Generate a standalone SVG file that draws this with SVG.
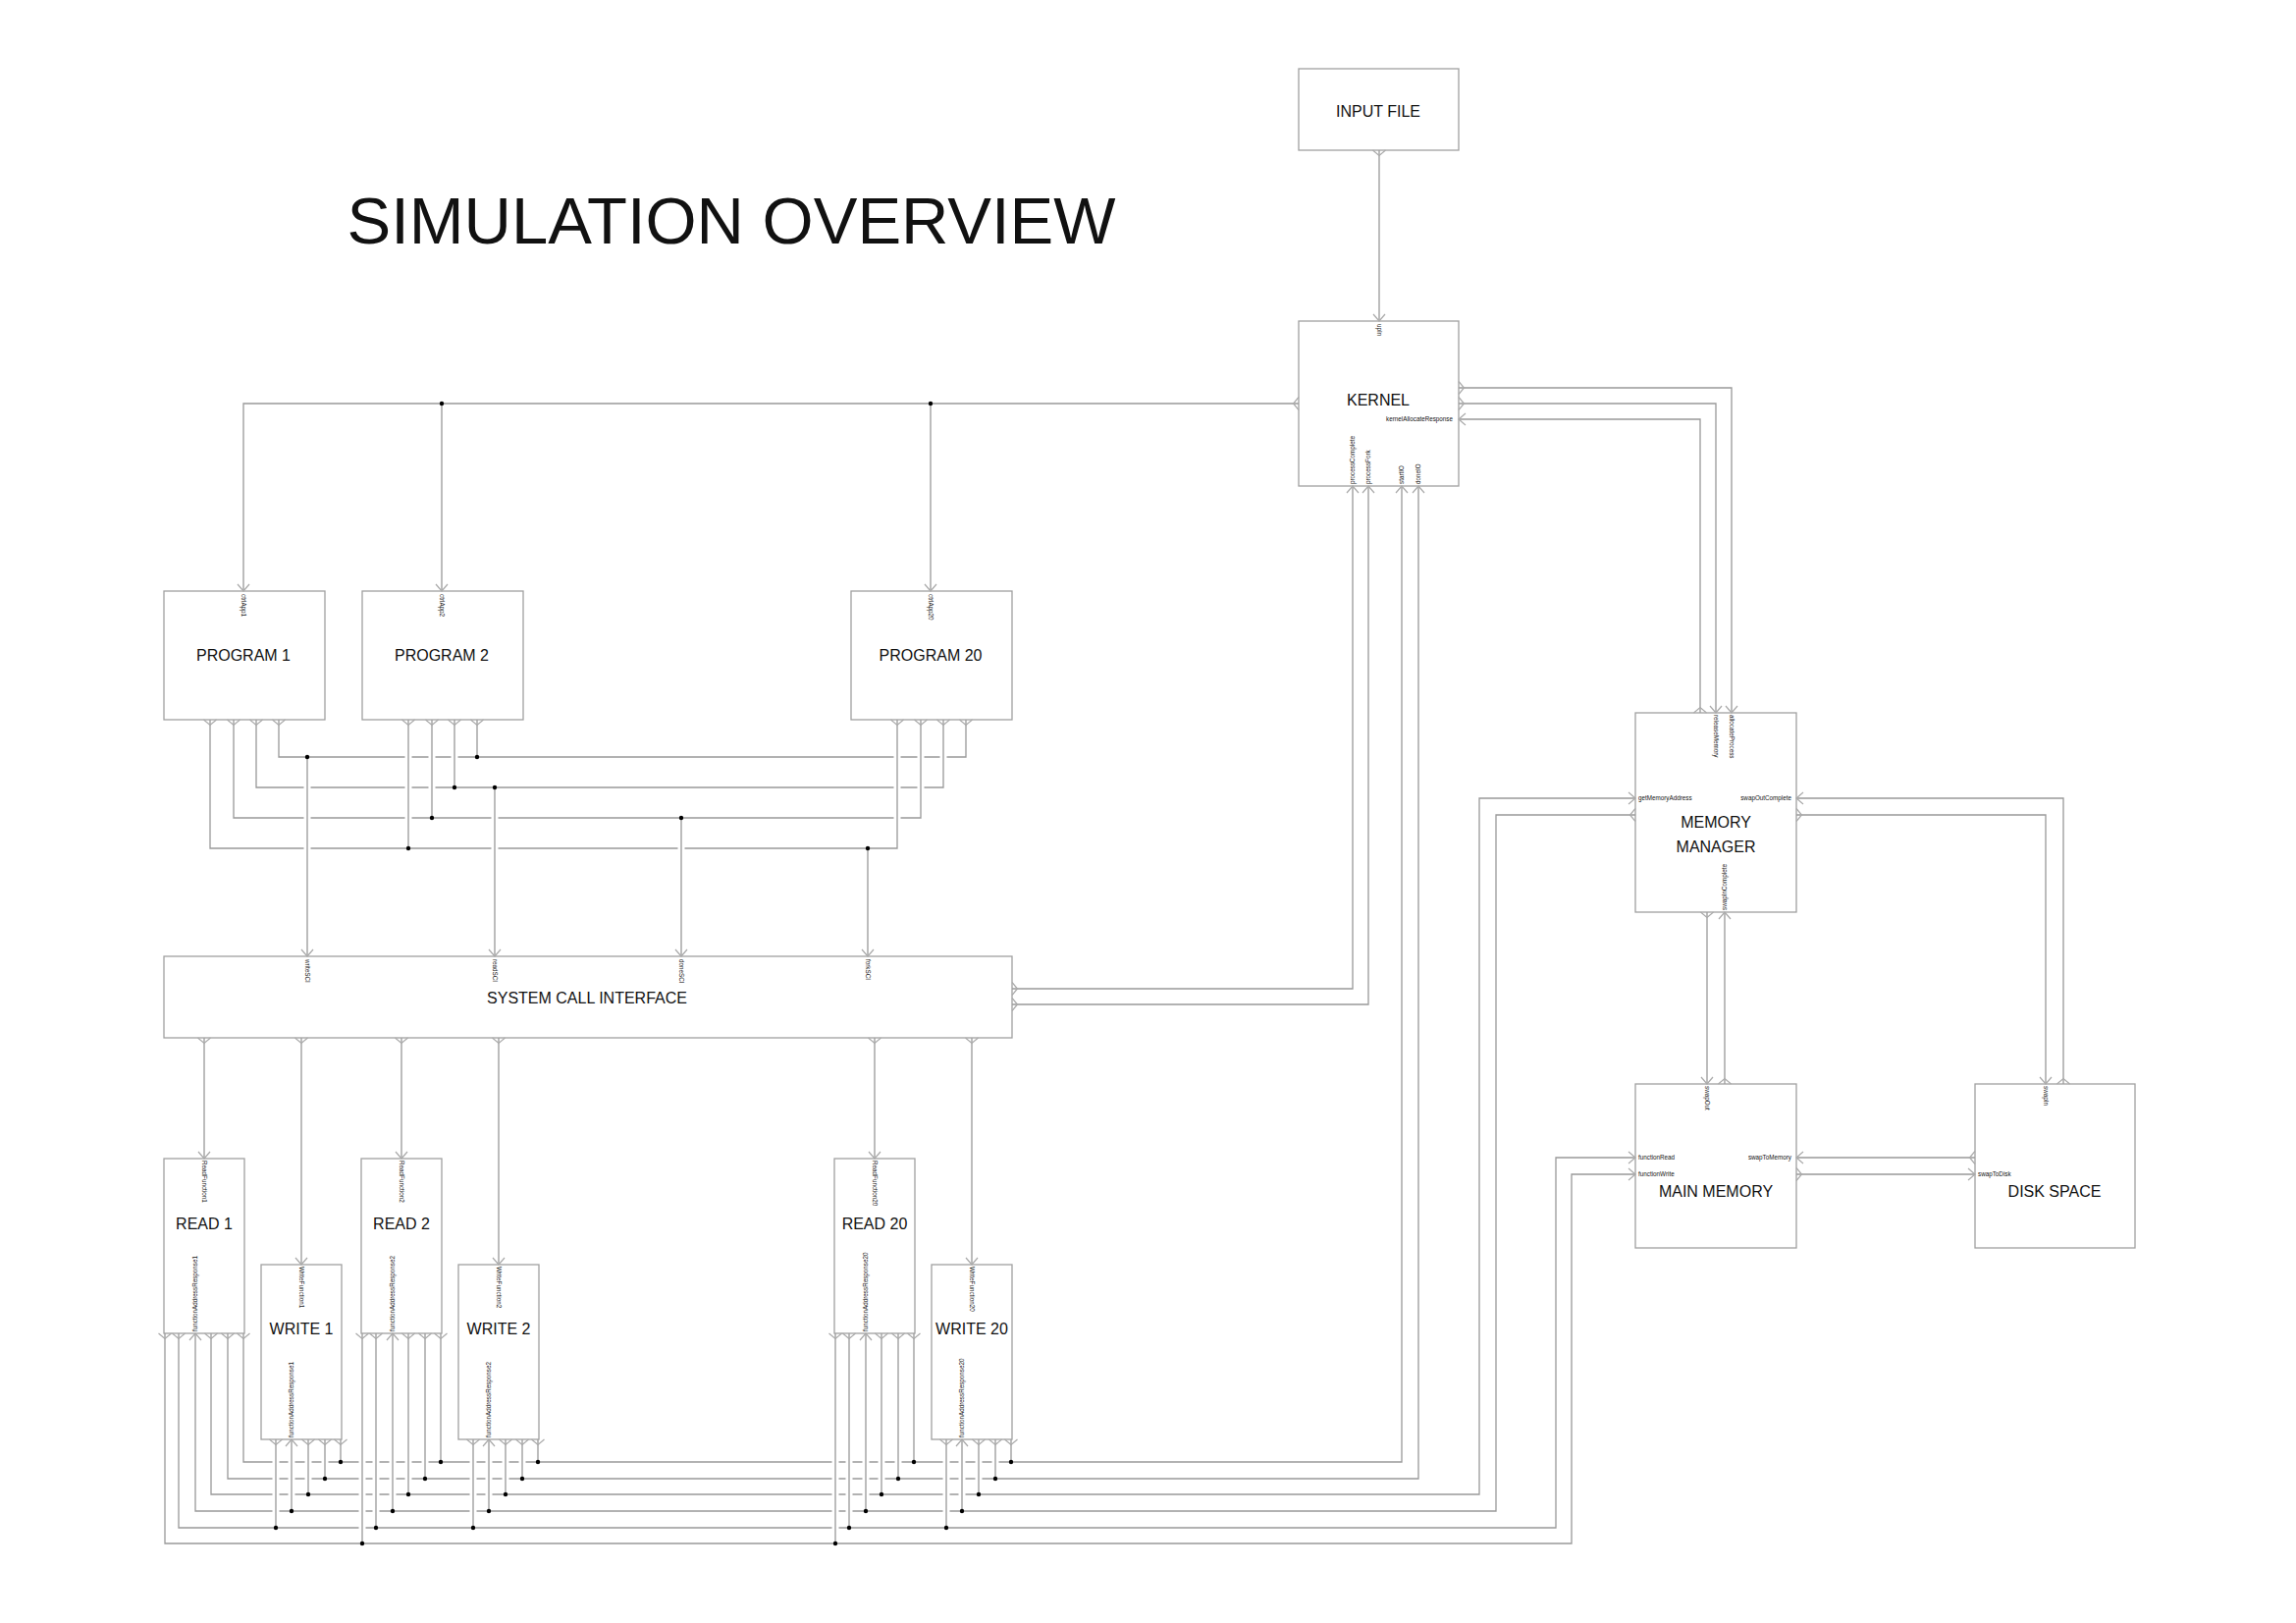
<svg xmlns="http://www.w3.org/2000/svg" xmlns:xlink="http://www.w3.org/1999/xlink" width="2339" height="1653" viewBox="0 0 2339 1653">
<style>
text{font-family:"Liberation Sans",Arial,Helvetica,sans-serif;fill:#111}
.box{fill:#fff;stroke:#a0a0a0;stroke-width:1.3}
.lbl{font-size:16px;text-anchor:middle}
.pl{font-size:6.3px}
.pr{font-size:6.3px;text-anchor:end}
.c{fill:none;stroke:#999;stroke-width:1.3}
.halo{fill:none;stroke:#fff;stroke-width:7}
.mk{fill:none;stroke:#aaa;stroke-width:1.2}
.dot{fill:#000}
.title{font-size:67px;text-anchor:middle}
</style>
<defs>
<path id="ain" class="mk" d="M-6,-7 L0,0 L6,-7"/>
<path id="aout" class="mk" d="M-6.5,0 L0,5.5 L6.5,0"/>
</defs>
<rect width="2339" height="1653" fill="#fff"/>
<text class="title" x="745" y="248">SIMULATION OVERVIEW</text>

<g id="connectors">
<path id="net-input" class="c" d="M1405,153 V327"/>
<path id="net-ctrl" class="c" d="M1323,411 H248 V602 M450,411 V602 M948,411 V602"/>
<path id="net-alloc" class="c" d="M1486,395 H1764 V726"/>
<path id="net-release" class="c" d="M1486,411 H1748 V726"/>
<path id="net-allocresp" class="c" d="M1732,726 V427 H1486"/>
<path id="net-swapoutcomplete" class="c" d="M2102,1104 V813 H1830"/>
<path id="net-swapin" class="c" d="M1830,830 H2084 V1104"/>
<path id="net-swapout" class="c" d="M1739,929 V1104"/>
<path id="net-swapincomplete" class="c" d="M1757,1104 V929"/>
<path id="net-swaptomemory" class="c" d="M2012,1179 H1830"/>
<path id="net-swaptodisk" class="c" d="M1830,1196 H2012"/>
<path id="net-proccomplete" class="c" d="M1031,1007 H1378 V495"/>
<path id="net-procfork" class="c" d="M1031,1023 H1394 V495"/>
<path id="net-a" class="c" d="M284,733 V771 H984 V733 M486,733 V771 M313,771 V974"/>
<path id="net-b" class="c" d="M261,733 V802 H961 V733 M463,733 V802 M504,802 V974"/>
<path id="net-c" class="c" d="M238,733 V833 H938 V733 M440,733 V833 M694,833 V974"/>
<path id="net-d" class="c" d="M214,733 V864 H914 V733 M416,733 V864 M884,864 V974"/>
<path id="net-sci" class="c" d="M208,1057 V1180 M307,1057 V1288 M409,1057 V1180 M508,1057 V1288 M891,1057 V1180 M990,1057 V1288"/>
<path id="net-l1" class="c" d="M248,1358 V1489 H1428 V495 M347,1466 V1489 M449,1358 V1489 M548,1466 V1489 M931,1358 V1489 M1030,1466 V1489"/>
<path id="net-l2" class="c" d="M232,1358 V1506 H1445 V495 M331,1466 V1506 M433,1358 V1506 M532,1466 V1506 M915,1358 V1506 M1014,1466 V1506"/>
<path id="net-l3" class="c" d="M215,1358 V1522 H1507 V813 H1666 M314,1466 V1522 M416,1358 V1522 M515,1466 V1522 M898,1358 V1522 M997,1466 V1522"/>
<path id="net-l4" class="c" d="M1666,830 H1524 V1539 H199 V1358 M297,1466 V1539 M400,1358 V1539 M498,1466 V1539 M882,1358 V1539 M980,1466 V1539"/>
<path id="net-l5" class="c" d="M182,1358 V1556 H1585 V1179 H1666 M281,1466 V1556 M383,1358 V1556 M482,1466 V1556 M865,1358 V1556 M964,1466 V1556"/>
<path id="net-l6" class="c" d="M168,1358 V1572 H1601 V1196 H1666 M369,1358 V1572 M851,1358 V1572"/>
<path class="halo" d="M313,776V969 M504,807V969 M694,838V969 M416,738V859 M440,738V828 M463,738V797 M914,738V859 M938,738V828 M961,738V797 M281,1471V1551 M297,1471V1534 M314,1471V1517 M331,1471V1501 M369,1363V1567 M383,1363V1551 M400,1363V1534 M416,1363V1517 M433,1363V1501 M482,1471V1551 M498,1471V1534 M515,1471V1517 M532,1471V1501 M851,1363V1567 M865,1363V1551 M882,1363V1534 M898,1363V1517 M915,1363V1501 M964,1471V1551 M980,1471V1534 M997,1471V1517 M1014,1471V1501"/>
<path class="c" d="M313,776V969 M504,807V969 M694,838V969 M416,738V859 M440,738V828 M463,738V797 M914,738V859 M938,738V828 M961,738V797 M281,1471V1551 M297,1471V1534 M314,1471V1517 M331,1471V1501 M369,1363V1567 M383,1363V1551 M400,1363V1534 M416,1363V1517 M433,1363V1501 M482,1471V1551 M498,1471V1534 M515,1471V1517 M532,1471V1501 M851,1363V1567 M865,1363V1551 M882,1363V1534 M898,1363V1517 M915,1363V1501 M964,1471V1551 M980,1471V1534 M997,1471V1517 M1014,1471V1501"/>
<g id="junctions" class="dot">
<circle cx="450" cy="411" r="2.2"/><circle cx="948" cy="411" r="2.2"/>
<circle cx="486" cy="771" r="2.2"/><circle cx="313" cy="771" r="2.2"/>
<circle cx="463" cy="802" r="2.2"/><circle cx="504" cy="802" r="2.2"/>
<circle cx="440" cy="833" r="2.2"/><circle cx="694" cy="833" r="2.2"/>
<circle cx="416" cy="864" r="2.2"/><circle cx="884" cy="864" r="2.2"/>
<circle cx="347" cy="1489" r="2.2"/><circle cx="449" cy="1489" r="2.2"/><circle cx="548" cy="1489" r="2.2"/><circle cx="931" cy="1489" r="2.2"/><circle cx="1030" cy="1489" r="2.2"/>
<circle cx="331" cy="1506" r="2.2"/><circle cx="433" cy="1506" r="2.2"/><circle cx="532" cy="1506" r="2.2"/><circle cx="915" cy="1506" r="2.2"/><circle cx="1014" cy="1506" r="2.2"/>
<circle cx="314" cy="1522" r="2.2"/><circle cx="416" cy="1522" r="2.2"/><circle cx="515" cy="1522" r="2.2"/><circle cx="898" cy="1522" r="2.2"/><circle cx="997" cy="1522" r="2.2"/>
<circle cx="297" cy="1539" r="2.2"/><circle cx="400" cy="1539" r="2.2"/><circle cx="498" cy="1539" r="2.2"/><circle cx="882" cy="1539" r="2.2"/><circle cx="980" cy="1539" r="2.2"/>
<circle cx="281" cy="1556" r="2.2"/><circle cx="383" cy="1556" r="2.2"/><circle cx="482" cy="1556" r="2.2"/><circle cx="865" cy="1556" r="2.2"/><circle cx="964" cy="1556" r="2.2"/>
<circle cx="369" cy="1572" r="2.2"/><circle cx="851" cy="1572" r="2.2"/>
</g>
</g>

<g id="input-file">
<rect class="box" x="1323" y="70" width="163" height="83"/>
<text class="lbl" x="1404" y="119">INPUT FILE</text>
<use href="#aout" transform="translate(1405,153)"/>
</g>

<g id="kernel">
<rect class="box" x="1323" y="327" width="163" height="168"/>
<text class="lbl" x="1404" y="413">KERNEL</text>
<use href="#ain" transform="translate(1405,327)"/>
<text class="pl" transform="translate(1402.8,330) rotate(90)">upIn</text>
<use href="#aout" transform="translate(1323,411) rotate(90)"/>
<use href="#aout" transform="translate(1486,395) rotate(-90)"/>
<use href="#aout" transform="translate(1486,411) rotate(-90)"/>
<use href="#ain" transform="translate(1486,427) rotate(90)"/>
<text class="pr" x="1480" y="429.2">kernelAllocateResponse</text>
<use href="#ain" transform="translate(1378,495) rotate(180)"/>
<use href="#ain" transform="translate(1394,495) rotate(180)"/>
<use href="#ain" transform="translate(1428,495) rotate(180)"/>
<use href="#ain" transform="translate(1445,495) rotate(180)"/>
<text class="pl" transform="translate(1380.2,493) rotate(-90)">processComplete</text>
<text class="pl" transform="translate(1396.2,493) rotate(-90)">processFork</text>
<text class="pl" transform="translate(1430.2,493) rotate(-90)">startIO</text>
<text class="pl" transform="translate(1447.2,493) rotate(-90)">doneIO</text>
</g>

<g id="program-1">
<rect class="box" x="167" y="602" width="164" height="131"/>
<text class="lbl" x="248" y="673">PROGRAM 1</text>
<use href="#ain" transform="translate(248,602)"/>
<text class="pl" transform="translate(245.8,605) rotate(90)">ctrlApp1</text>
<use href="#aout" transform="translate(214,733)"/>
<use href="#aout" transform="translate(238,733)"/>
<use href="#aout" transform="translate(261,733)"/>
<use href="#aout" transform="translate(284,733)"/>
</g>

<g id="program-2">
<rect class="box" x="369" y="602" width="164" height="131"/>
<text class="lbl" x="450" y="673">PROGRAM 2</text>
<use href="#ain" transform="translate(450,602)"/>
<text class="pl" transform="translate(447.8,605) rotate(90)">ctrlApp2</text>
<use href="#aout" transform="translate(416,733)"/>
<use href="#aout" transform="translate(440,733)"/>
<use href="#aout" transform="translate(463,733)"/>
<use href="#aout" transform="translate(486,733)"/>
</g>

<g id="program-20">
<rect class="box" x="867" y="602" width="164" height="131"/>
<text class="lbl" x="948" y="673">PROGRAM 20</text>
<use href="#ain" transform="translate(948,602)"/>
<text class="pl" transform="translate(945.8,605) rotate(90)">ctrlApp20</text>
<use href="#aout" transform="translate(914,733)"/>
<use href="#aout" transform="translate(938,733)"/>
<use href="#aout" transform="translate(961,733)"/>
<use href="#aout" transform="translate(984,733)"/>
</g>

<g id="system-call-interface">
<rect class="box" x="167" y="974" width="864" height="83"/>
<text class="lbl" x="598" y="1022">SYSTEM CALL INTERFACE</text>
<use href="#ain" transform="translate(313,974)"/>
<use href="#ain" transform="translate(504,974)"/>
<use href="#ain" transform="translate(694,974)"/>
<use href="#ain" transform="translate(884,974)"/>
<text class="pl" transform="translate(310.8,977) rotate(90)">writeSCI</text>
<text class="pl" transform="translate(501.8,977) rotate(90)">readSCI</text>
<text class="pl" transform="translate(691.8,977) rotate(90)">doneSCI</text>
<text class="pl" transform="translate(881.8,977) rotate(90)">forkSCI</text>
<use href="#aout" transform="translate(208,1057)"/>
<use href="#aout" transform="translate(307,1057)"/>
<use href="#aout" transform="translate(409,1057)"/>
<use href="#aout" transform="translate(508,1057)"/>
<use href="#aout" transform="translate(891,1057)"/>
<use href="#aout" transform="translate(990,1057)"/>
<use href="#aout" transform="translate(1031,1007) rotate(-90)"/>
<use href="#aout" transform="translate(1031,1023) rotate(-90)"/>
</g>

<g id="read-1">
<rect class="box" x="167" y="1180" width="82" height="178"/>
<text class="lbl" x="208" y="1252">READ 1</text>
<use href="#ain" transform="translate(208,1180)"/>
<text class="pl" transform="translate(205.8,1182) rotate(90)">ReadFunction1</text>
<text class="pl" transform="translate(201.2,1356) rotate(-90)">functionAddressResponse1</text>
<use href="#aout" transform="translate(168,1358)"/>
<use href="#aout" transform="translate(182,1358)"/>
<use href="#ain" transform="translate(199,1358) rotate(180)"/>
<use href="#aout" transform="translate(215,1358)"/>
<use href="#aout" transform="translate(232,1358)"/>
<use href="#aout" transform="translate(248,1358)"/>
</g>

<g id="write-1">
<rect class="box" x="266" y="1288" width="82" height="178"/>
<text class="lbl" x="307" y="1359">WRITE 1</text>
<use href="#ain" transform="translate(307,1288)"/>
<text class="pl" transform="translate(304.8,1290) rotate(90)">WriteFunction1</text>
<text class="pl" transform="translate(299.2,1464) rotate(-90)">functionAddressResponse1</text>
<use href="#aout" transform="translate(281,1466)"/>
<use href="#ain" transform="translate(297,1466) rotate(180)"/>
<use href="#aout" transform="translate(314,1466)"/>
<use href="#aout" transform="translate(331,1466)"/>
<use href="#aout" transform="translate(347,1466)"/>
</g>

<g id="read-2">
<rect class="box" x="368" y="1180" width="82" height="178"/>
<text class="lbl" x="409" y="1252">READ 2</text>
<use href="#ain" transform="translate(409,1180)"/>
<text class="pl" transform="translate(406.8,1182) rotate(90)">ReadFunction2</text>
<text class="pl" transform="translate(402.2,1356) rotate(-90)">functionAddressResponse2</text>
<use href="#aout" transform="translate(369,1358)"/>
<use href="#aout" transform="translate(383,1358)"/>
<use href="#ain" transform="translate(400,1358) rotate(180)"/>
<use href="#aout" transform="translate(416,1358)"/>
<use href="#aout" transform="translate(433,1358)"/>
<use href="#aout" transform="translate(449,1358)"/>
</g>

<g id="write-2">
<rect class="box" x="467" y="1288" width="82" height="178"/>
<text class="lbl" x="508" y="1359">WRITE 2</text>
<use href="#ain" transform="translate(508,1288)"/>
<text class="pl" transform="translate(505.8,1290) rotate(90)">WriteFunction2</text>
<text class="pl" transform="translate(500.2,1464) rotate(-90)">functionAddressResponse2</text>
<use href="#aout" transform="translate(482,1466)"/>
<use href="#ain" transform="translate(498,1466) rotate(180)"/>
<use href="#aout" transform="translate(515,1466)"/>
<use href="#aout" transform="translate(532,1466)"/>
<use href="#aout" transform="translate(548,1466)"/>
</g>

<g id="read-20">
<rect class="box" x="850" y="1180" width="82" height="178"/>
<text class="lbl" x="891" y="1252">READ 20</text>
<use href="#ain" transform="translate(891,1180)"/>
<text class="pl" transform="translate(888.8,1182) rotate(90)">ReadFunction20</text>
<text class="pl" transform="translate(884.2,1356) rotate(-90)">functionAddressResponse20</text>
<use href="#aout" transform="translate(851,1358)"/>
<use href="#aout" transform="translate(865,1358)"/>
<use href="#ain" transform="translate(882,1358) rotate(180)"/>
<use href="#aout" transform="translate(898,1358)"/>
<use href="#aout" transform="translate(915,1358)"/>
<use href="#aout" transform="translate(931,1358)"/>
</g>

<g id="write-20">
<rect class="box" x="949" y="1288" width="82" height="178"/>
<text class="lbl" x="990" y="1359">WRITE 20</text>
<use href="#ain" transform="translate(990,1288)"/>
<text class="pl" transform="translate(987.8,1290) rotate(90)">WriteFunction20</text>
<text class="pl" transform="translate(982.2,1464) rotate(-90)">functionAddressResponse20</text>
<use href="#aout" transform="translate(964,1466)"/>
<use href="#ain" transform="translate(980,1466) rotate(180)"/>
<use href="#aout" transform="translate(997,1466)"/>
<use href="#aout" transform="translate(1014,1466)"/>
<use href="#aout" transform="translate(1030,1466)"/>
</g>

<g id="memory-manager">
<rect class="box" x="1666" y="726" width="164" height="203"/>
<text class="lbl" x="1748" y="843">MEMORY</text>
<text class="lbl" x="1748" y="868">MANAGER</text>
<use href="#aout" transform="translate(1732,726) rotate(180)"/>
<use href="#ain" transform="translate(1748,726)"/>
<use href="#ain" transform="translate(1764,726)"/>
<text class="pl" transform="translate(1745.8,728) rotate(90)">releaseMemory</text>
<text class="pl" transform="translate(1761.8,728) rotate(90)">allocateProcess</text>
<use href="#ain" transform="translate(1666,813) rotate(-90)"/>
<use href="#aout" transform="translate(1666,830) rotate(90)"/>
<text class="pl" x="1669" y="815.2">getMemoryAddress</text>
<use href="#ain" transform="translate(1830,813) rotate(90)"/>
<use href="#aout" transform="translate(1830,830) rotate(-90)"/>
<text class="pr" x="1825" y="815.2">swapOutComplete</text>
<use href="#aout" transform="translate(1739,929)"/>
<use href="#ain" transform="translate(1757,929) rotate(180)"/>
<text class="pl" transform="translate(1759.2,927) rotate(-90)">swapInComplete</text>
</g>

<g id="main-memory">
<rect class="box" x="1666" y="1104" width="164" height="167"/>
<text class="lbl" x="1748" y="1219">MAIN MEMORY</text>
<use href="#ain" transform="translate(1739,1104)"/>
<use href="#aout" transform="translate(1757,1104) rotate(180)"/>
<text class="pl" transform="translate(1736.8,1106) rotate(90)">swapOut</text>
<use href="#ain" transform="translate(1666,1179) rotate(-90)"/>
<use href="#ain" transform="translate(1666,1196) rotate(-90)"/>
<text class="pl" x="1669" y="1181.2">functionRead</text>
<text class="pl" x="1669" y="1198.2">functionWrite</text>
<use href="#ain" transform="translate(1830,1179) rotate(90)"/>
<use href="#aout" transform="translate(1830,1196) rotate(-90)"/>
<text class="pr" x="1825" y="1181.2">swapToMemory</text>
</g>

<g id="disk-space">
<rect class="box" x="2012" y="1104" width="163" height="167"/>
<text class="lbl" x="2093" y="1219">DISK SPACE</text>
<use href="#ain" transform="translate(2084,1104)"/>
<use href="#aout" transform="translate(2102,1104) rotate(180)"/>
<text class="pl" transform="translate(2081.8,1106) rotate(90)">swapIn</text>
<use href="#aout" transform="translate(2012,1179) rotate(90)"/>
<use href="#ain" transform="translate(2012,1196) rotate(-90)"/>
<text class="pl" x="2015" y="1198.2">swapToDisk</text>
</g>
</svg>
